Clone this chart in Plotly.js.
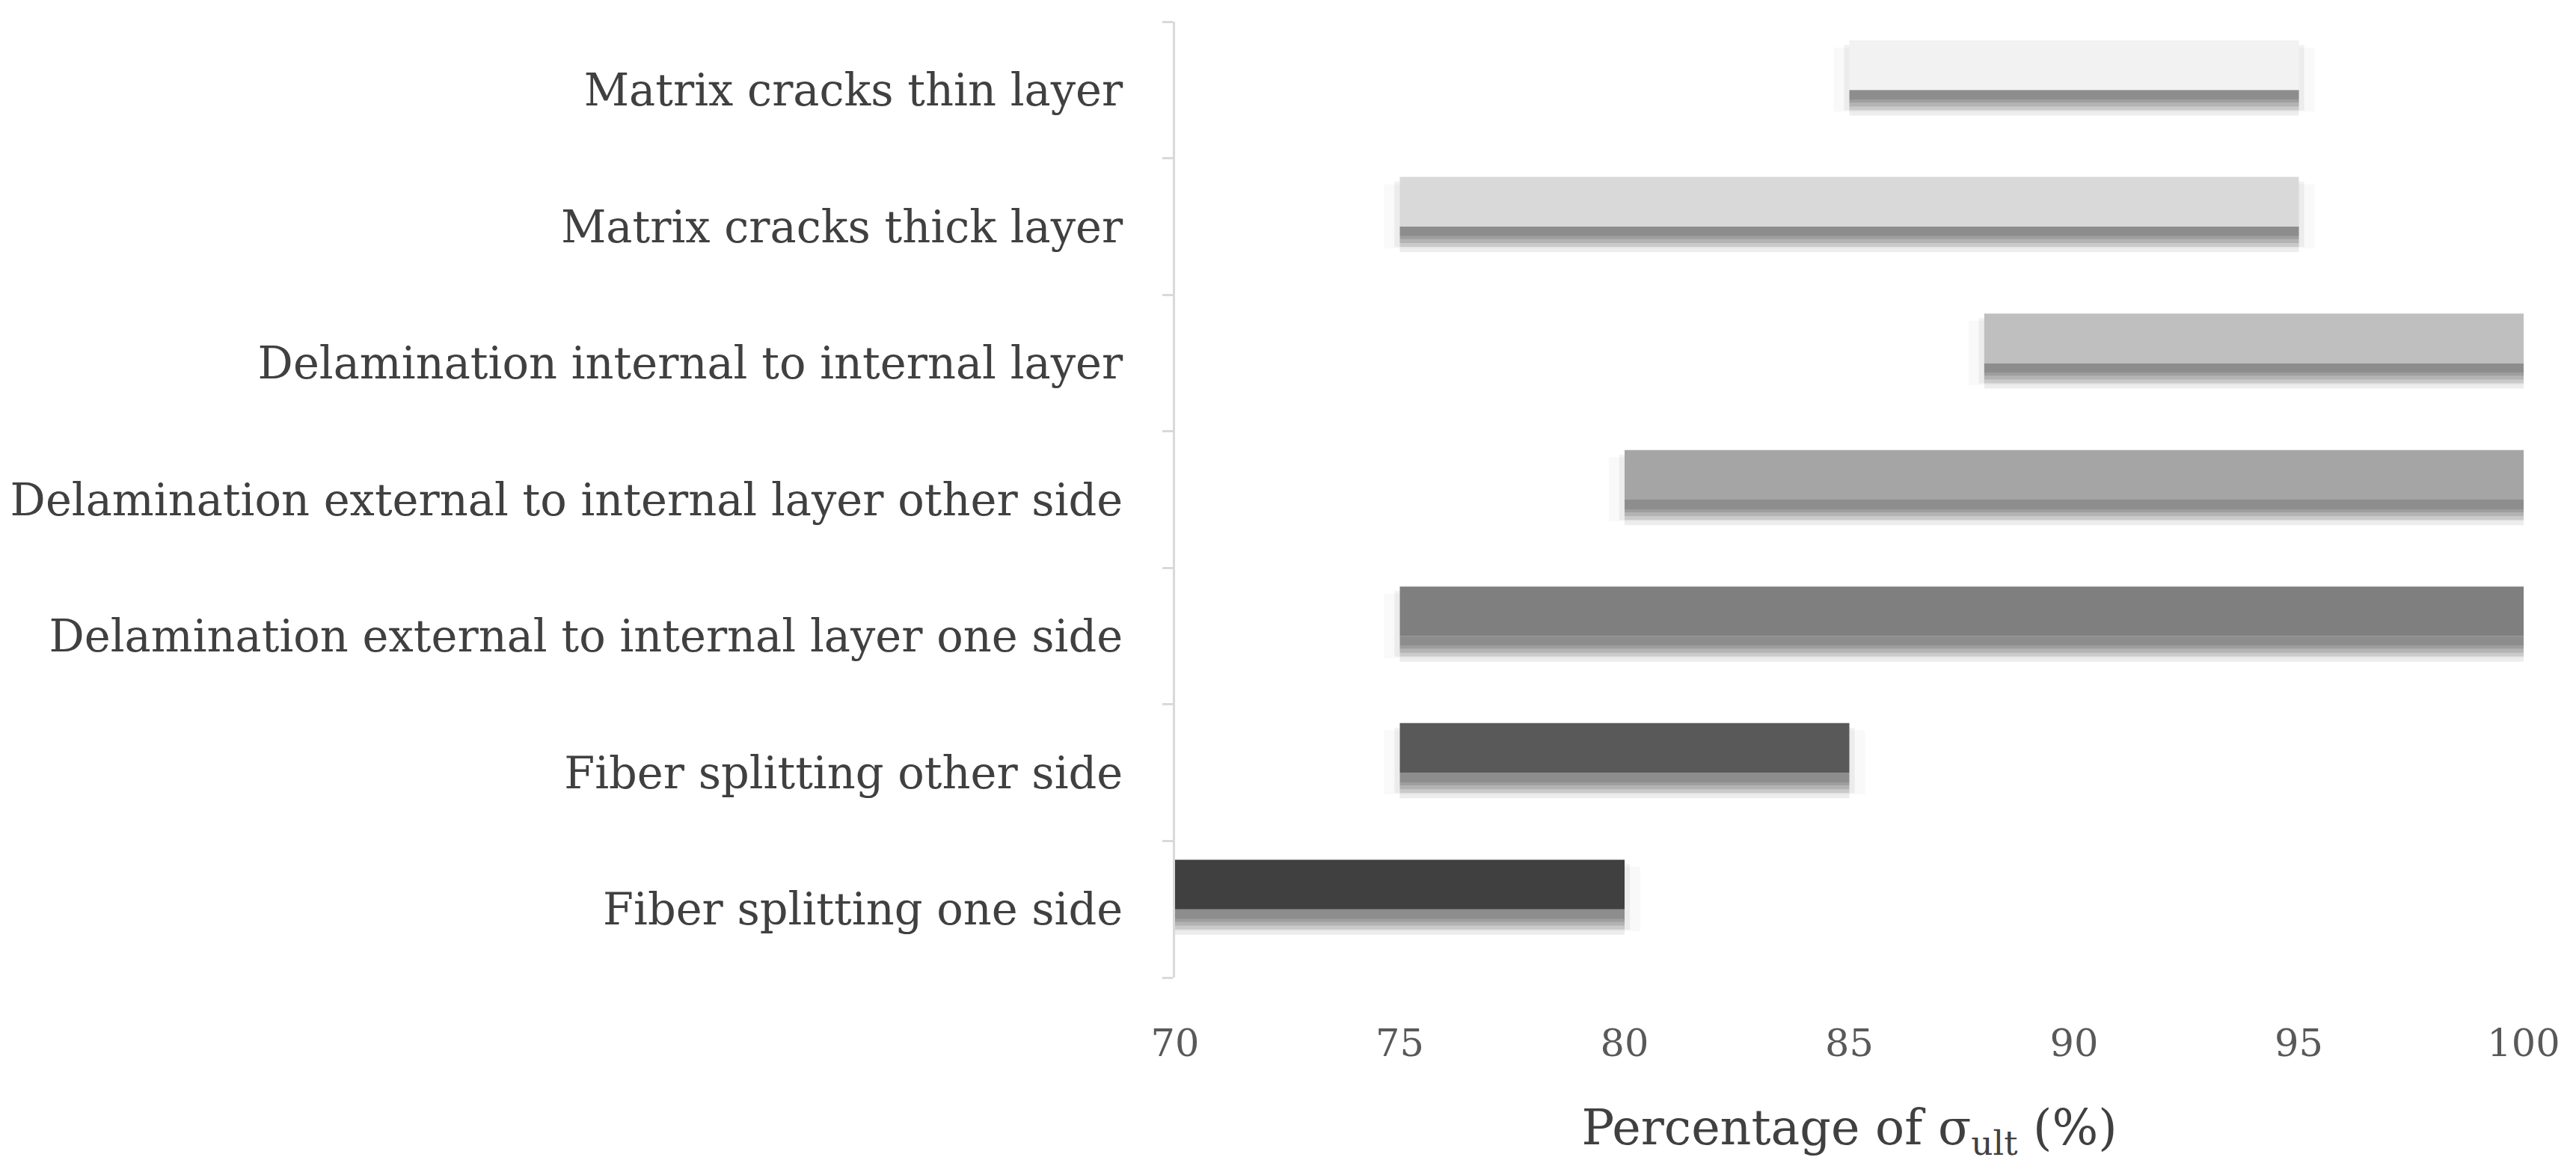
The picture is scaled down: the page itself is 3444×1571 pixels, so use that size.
<!DOCTYPE html>
<html>
<head>
<meta charset="utf-8">
<script src="https://cdn.plot.ly/plotly-3.0.1.min.js"></script>
<style>
  html, body { margin: 0; padding: 0; background: #fff; }
  #chart { width: 3444px; height: 1571px; }
</style>
</head>
<body>
<div id="chart"></div>
<script>
// damage modes, bottom to top
const categories = [
  'Fiber splitting one side',
  'Fiber splitting other side',
  'Delamination external to internal layer one side',
  'Delamination external to internal layer other side',
  'Delamination internal to internal layer',
  'Matrix cracks thick layer',
  'Matrix cracks thin layer'
]
const startPct = [70, 75, 75, 80, 88, 75, 85]
const endPct = [80, 85, 100, 100, 100, 95, 95]
const barColors = ['#404040', '#595959', '#7f7f7f', '#a5a5a5', '#bfbfbf', '#d9d9d9', '#f2f2f2']

const span = endPct.map((e, i) => e - startPct[i])
const serif = 'DejaVu Serif, Liberation Serif, serif'

// soft drop shadow under each bar, drawn as fading bands (offsets in category units)
const shadowBands = [
  {top: 0, bottom: -0.071, alpha: 0.40},
  {top: -0.071, bottom: -0.093, alpha: 0.33},
  {top: -0.093, bottom: -0.121, alpha: 0.24},
  {top: -0.121, bottom: -0.148, alpha: 0.14},
  {top: -0.148, bottom: -0.187, alpha: 0.07}
]
// faint blur that spills past the bar ends (pad in x units)
const haloLayers = [
  {pad: 0.12, top: 0.33, bottom: -0.15, alpha: 0.05},
  {pad: 0.35, top: 0.31, bottom: -0.16, alpha: 0.025}
]

const halos = haloLayers.map((h) => ({
  type: 'bar',
  orientation: 'h',
  y: categories,
  x: span.map((s) => s + 2 * h.pad),
  base: startPct.map((s) => s - h.pad),
  offset: h.bottom,
  width: h.top - h.bottom,
  marker: {color: `rgba(0,0,0,${h.alpha})`, line: {width: 0}},
  hoverinfo: 'skip',
  showlegend: false
}))

const shadows = shadowBands.map((b) => ({
  type: 'bar',
  orientation: 'h',
  y: categories,
  x: span,
  base: startPct,
  offset: b.bottom,
  width: b.top - b.bottom,
  marker: {color: `rgba(0,0,0,${b.alpha})`, line: {width: 0}},
  hoverinfo: 'skip',
  showlegend: false
}))

const bars = {
  type: 'bar',
  orientation: 'h',
  y: categories,
  x: span,
  base: startPct,
  offset: 0,
  width: 0.363,
  marker: {color: barColors, line: {width: 0}},
  showlegend: false
}

const layout = {
  width: 3444,
  height: 1571,
  margin: {l: 1571, r: 70, t: 29, b: 264},
  paper_bgcolor: '#fff',
  plot_bgcolor: '#fff',
  barmode: 'overlay',
  font: {family: serif, color: '#404040'},
  xaxis: {
    range: [70, 100],
    tickvals: [70, 75, 80, 85, 90, 95, 100],
    showgrid: false,
    zeroline: false,
    showline: false,
    ticks: '',
    ticklabelstandoff: 53,
    tickfont: {family: serif, size: 51, color: '#595959'},
    title: {
      text: 'Percentage of σ<sub>ult</sub> (%)',
      font: {family: serif, size: 65, color: '#404040'},
      standoff: 61
    }
  },
  yaxis: {
    type: 'category',
    range: [-0.5, 6.5],
    showgrid: false,
    zeroline: false,
    showline: true,
    linecolor: '#d9d9d9',
    linewidth: 3,
    ticks: 'outside',
    tickson: 'boundaries',
    ticklen: 14,
    tickwidth: 3,
    tickcolor: '#d9d9d9',
    ticklabelstandoff: 55,
    tickfont: {family: serif, size: 59, color: '#404040'}
  }
}

Plotly.newPlot('chart', [...halos, ...shadows, bars], layout, {displayModeBar: false, staticPlot: true})
</script>
</body>
</html>
